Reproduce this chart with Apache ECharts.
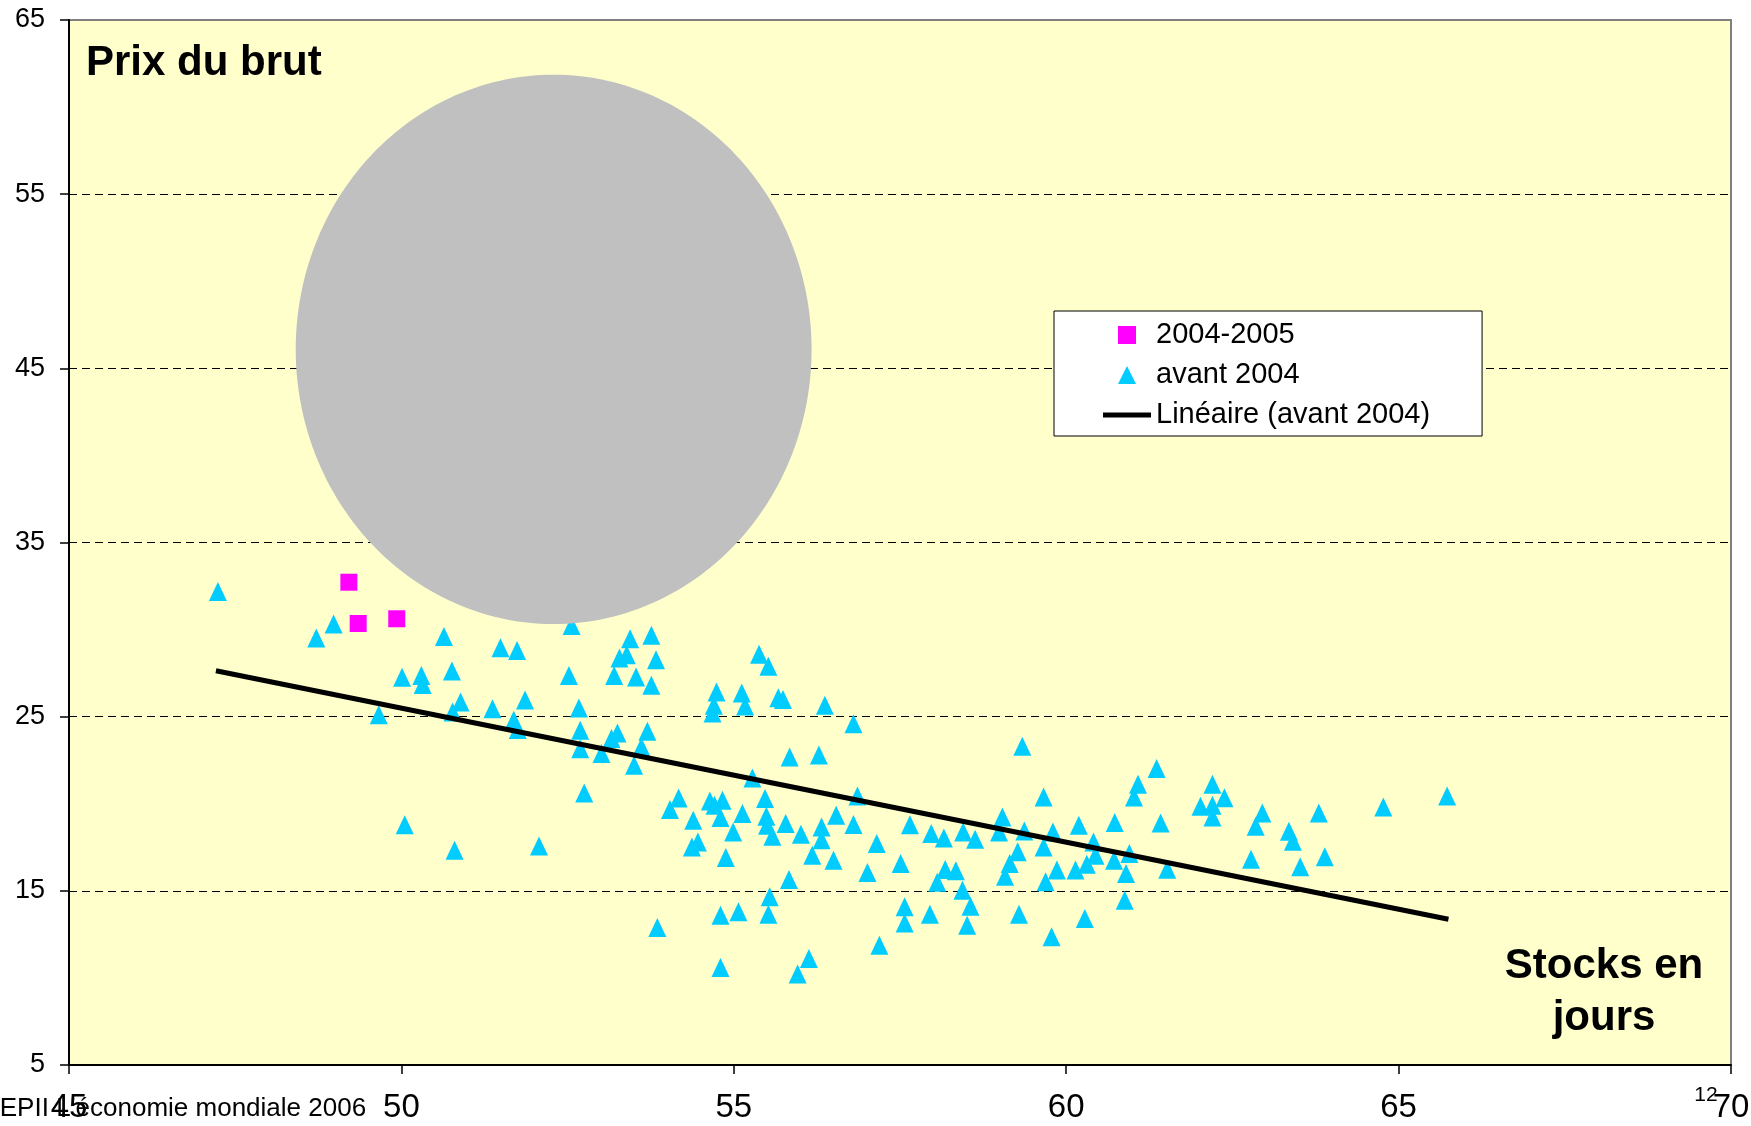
<!DOCTYPE html>
<html>
<head>
<meta charset="utf-8">
<script src="https://cdn.jsdelivr.net/npm/echarts@6/dist/echarts.min.js"></script>
<style>
html,body{margin:0;padding:0;background:#ffffff;}
#c{width:1751px;height:1126px;}
</style>
</head>
<body>
<div id="c"></div>
<script>
// ---- data ----
const xTicks = [45, 50, 55, 60, 65, 70];
const yTicks = [5, 15, 25, 35, 45, 55, 65];

const seriesNames = ['2004-2005', 'avant 2004', 'Linéaire (avant 2004)'];

const points20042005 = [[49.21, 32.72], [49.35, 30.35], [49.93, 30.62]];

const pointsAvant2004 = [
  [47.24, 32.19], [48.72, 29.51], [48.98, 30.32], [49.66, 25.11], [50.01, 27.26], [50.05, 18.80],
  [50.30, 27.37], [50.32, 26.85], [50.64, 29.61], [50.76, 27.62], [50.77, 25.27], [50.80, 17.33],
  [50.89, 25.84], [51.37, 25.46], [51.49, 28.96], [51.69, 24.79], [51.74, 28.80], [51.75, 24.27],
  [51.86, 25.96], [52.07, 17.58], [52.52, 27.37], [52.56, 30.24], [52.67, 25.50], [52.69, 24.22],
  [52.69, 23.16], [52.75, 20.62], [53.01, 22.88],
  [53.16, 23.75], [53.20, 27.37], [53.25, 24.06], [53.28, 28.37], [53.39, 28.56], [53.44, 29.47],
  [53.50, 22.21], [53.53, 27.28], [53.61, 23.26], [53.70, 24.16], [53.76, 29.67], [53.76, 26.80],
  [53.83, 28.27], [53.85, 12.90], [54.04, 19.67], [54.17, 20.33], [54.37, 17.52], [54.39, 19.05],
  [54.46, 17.81], [54.64, 20.16], [54.68, 25.21], [54.70, 25.65], [54.71, 19.91], [54.74, 26.41],
  [54.80, 19.21], [54.80, 13.60], [54.80, 10.60], [54.83, 20.20], [54.88, 16.91], [54.99, 18.38],
  [55.07, 13.80], [55.12, 26.36], [55.13, 19.44], [55.17, 25.61], [55.28, 21.48], [55.38, 28.58],
  [55.47, 20.30], [55.49, 19.28], [55.50, 18.77], [55.52, 27.89], [55.52, 13.66], [55.54, 14.66],
  [55.58, 18.14], [55.67, 26.09], [55.74, 25.98], [55.78, 18.86], [55.83, 15.65], [55.84, 22.69],
  [55.96, 10.22], [56.01, 18.25], [56.13, 11.12], [56.18, 17.05], [56.28, 22.80], [56.32, 18.67],
  [56.32, 17.94], [56.37, 25.65],
  [56.50, 16.76], [56.54, 19.34], [56.80, 24.60], [56.80, 18.81], [56.86, 20.45], [57.01, 16.05],
  [57.15, 17.72], [57.19, 11.88], [57.51, 16.57], [57.57, 14.08], [57.57, 13.16], [57.65, 18.80],
  [57.95, 13.66], [57.97, 18.29], [58.06, 15.50], [58.16, 18.04], [58.18, 16.22], [58.34, 16.15],
  [58.44, 15.04], [58.45, 18.38], [58.51, 13.03], [58.56, 14.12], [58.63, 17.96], [58.99, 18.38],
  [59.04, 19.24], [59.08, 15.84], [59.15, 16.57], [59.27, 17.24], [59.29, 13.66], [59.34, 23.30],
  [59.37, 18.44],
  [59.66, 20.39], [59.66, 17.52], [59.69, 15.52], [59.78, 12.36], [59.80, 18.38], [59.86, 16.19],
  [60.14, 16.19], [60.19, 18.77], [60.28, 13.41], [60.31, 16.53], [60.41, 17.81], [60.44, 17.05],
  [60.72, 16.76], [60.73, 18.92], [60.88, 14.46], [60.90, 15.99], [60.95, 17.14], [61.02, 20.39],
  [61.08, 21.12], [61.36, 22.02], [61.42, 18.90], [61.52, 16.24], [62.02, 19.86], [62.20, 21.12],
  [62.20, 19.91], [62.20, 19.24], [62.38, 20.35],
  [62.78, 16.82], [62.85, 18.71], [62.95, 19.47], [63.35, 18.42], [63.41, 17.85], [63.52, 16.38],
  [63.80, 19.47], [63.89, 16.95], [64.77, 19.82], [65.73, 20.45]
];

const trendLine = [[47.21, 27.64], [65.75, 13.37]];

// grey ellipse: [centre x, centre y, half-width, half-height] in data units
const ellipseShape = [[52.29, 46.09, 3.88, 15.77]];

const axisTitleY = 'Prix du brut';
const axisTitleX = 'Stocks en\njours';
const footnote = "CEPII L'économie mondiale 2006";
const pageNumber = '12';

// ---- chart ----
const FONT = '"Liberation Sans", Arial, sans-serif';
const chart = echarts.init(document.getElementById('c'), null, {renderer: 'canvas'});

function textEl(text, x, y, size, bold, align, extra) {
  const style = Object.assign({
    text: text,
    font: (bold ? 'bold ' : '') + size + 'px ' + FONT,
    fill: '#000',
    textAlign: align, align: align,
    textVerticalAlign: 'middle', verticalAlign: 'middle'
  }, extra || {});
  return {type: 'text', x: x, y: y, z: 100, silent: true, style: style};
}

const option = {
  animation: false,
  backgroundColor: '#ffffff',
  grid: {
    left: 69, right: 20, top: 20, bottom: 61,
    containLabel: false,
    outerBoundsMode: 'none',
    show: true,
    backgroundColor: '#FFFFCC',
    borderColor: '#808080',
    borderWidth: 2
  },
  xAxis: {
    type: 'value',
    min: xTicks[0], max: xTicks[xTicks.length - 1],
    interval: xTicks[1] - xTicks[0],
    axisLine: {show: true, onZero: false, lineStyle: {color: '#000', width: 2}},
    axisTick: {show: true, inside: false, length: 9, lineStyle: {color: '#000', width: 1.5}},
    axisLabel: {show: true, margin: 26, fontSize: 33, fontFamily: FONT, color: '#000',
      showMinLabel: true, showMaxLabel: true, hideOverlap: false},
    splitLine: {show: false}
  },
  yAxis: {
    type: 'value',
    min: yTicks[0], max: yTicks[yTicks.length - 1],
    interval: yTicks[1] - yTicks[0],
    axisLine: {show: true, onZero: false, lineStyle: {color: '#000', width: 2}},
    axisTick: {show: true, inside: false, length: 9, lineStyle: {color: '#000', width: 1.5}},
    axisLabel: {show: true, margin: 24, fontSize: 27, fontFamily: FONT, color: '#000',
      showMinLabel: true, showMaxLabel: true, hideOverlap: false},
    splitLine: {show: true, showMinLine: false, showMaxLine: false,
      lineStyle: {color: '#000', width: 1, type: [8, 5]}}
  },
  legend: {
    orient: 'vertical',
    left: 1054, top: 311,
    data: [
      {name: seriesNames[0], icon: 'path://M0,0H10V10H0Z'},
      {name: seriesNames[1], icon: 'path://M5,0L10,10H0Z'},
      {name: seriesNames[2], icon: 'path://M0,0H96V10H0Z'}
    ],
    symbolKeepAspect: true,
    itemWidth: 48, itemHeight: 18, itemGap: 10,
    padding: [9, 52, 6, 49],
    backgroundColor: '#ffffff',
    borderColor: '#000', borderWidth: 1, borderRadius: 0,
    selectedMode: false,
    textStyle: {fontSize: 29, fontFamily: FONT, color: '#000', lineHeight: 30}
  },
  series: [
    {
      name: seriesNames[1], type: 'scatter', data: pointsAvant2004,
      symbol: 'triangle', symbolSize: [18, 19],
      itemStyle: {color: '#00CCFF', opacity: 1}, z: 2, silent: true
    },
    {
      name: seriesNames[0], type: 'scatter', data: points20042005,
      symbol: 'rect', symbolSize: 17,
      itemStyle: {color: '#FF00FF', opacity: 1}, z: 2, silent: true
    },
    {
      name: seriesNames[2], type: 'line', data: trendLine,
      symbol: 'none', lineStyle: {color: '#000', width: 5}, itemStyle: {color: '#000'},
      z: 3, silent: true
    },
    {
      name: 'ellipse', type: 'custom', data: ellipseShape, z: 4, silent: true, clip: false,
      renderItem: function (params, api) {
        const c = api.coord([api.value(0), api.value(1)]);
        const s = api.size([api.value(2), api.value(3)]);
        const pts = [];
        const n = 240;
        for (let i = 0; i < n; i++) {
          const t = i / n * Math.PI * 2;
          pts.push([c[0] + s[0] * Math.cos(t), c[1] + s[1] * Math.sin(t)]);
        }
        return {type: 'polygon', shape: {points: pts}, style: {fill: '#C0C0C0', stroke: null}};
      }
    }
  ],
  graphic: [
    textEl(axisTitleY, 86, 63, 42, true, 'left'),
    textEl(axisTitleX, 1604, 992, 42, true, 'center', {lineHeight: 52}),
    textEl(footnote, -19, 1109, 26, false, 'left'),
    textEl(pageNumber, 1706, 1095, 21, false, 'center')
  ]
};
chart.setOption(option);
</script>
</body>
</html>
